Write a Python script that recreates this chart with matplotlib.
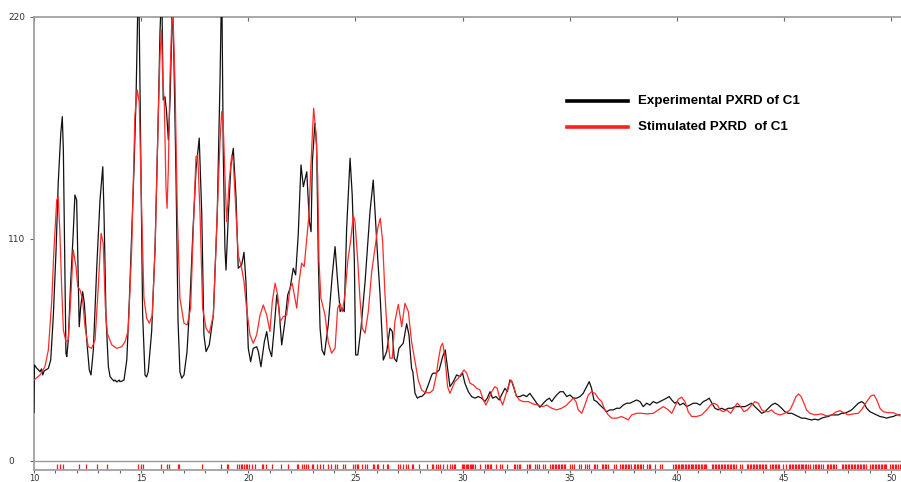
import matplotlib
matplotlib.use("Agg")
from matplotlib import pyplot as plt
from matplotlib.lines import Line2D
from matplotlib.ticker import MultipleLocator

# measured pattern (2theta, counts)
exp_tt = [10.00, 10.02, 10.13, 10.21, 10.28, 10.35, 10.41, 10.47, 10.56, 10.67,
          10.78, 10.90, 11.03, 11.13, 11.25, 11.32, 11.37, 11.43, 11.49, 11.53,
          11.60, 11.71, 11.83, 11.91, 11.99, 12.07, 12.11, 12.18, 12.27, 12.35,
          12.46, 12.58, 12.66, 12.77, 12.93, 13.08, 13.21, 13.27, 13.36, 13.47,
          13.55, 13.64, 13.73, 13.78, 13.87, 13.97, 14.01, 14.11, 14.20, 14.33,
          14.45, 14.56, 14.67, 14.76, 14.88, 14.98, 15.07, 15.18, 15.25, 15.33,
          15.49, 15.65, 15.80, 15.88, 15.96, 16.03, 16.11, 16.18, 16.27, 16.35,
          16.42, 16.45, 16.53, 16.63, 16.72, 16.81, 16.89, 17.00, 17.14, 17.28,
          17.42, 17.56, 17.71, 17.83, 17.93, 18.03, 18.18, 18.37, 18.55, 18.68,
          18.76, 18.83, 18.91, 18.96, 19.07, 19.19, 19.30, 19.43, 19.53, 19.69,
          19.80, 19.89, 20.00, 20.11, 20.23, 20.39, 20.47, 20.59, 20.75, 20.86,
          20.97, 21.09, 21.21, 21.33, 21.43, 21.56, 21.71, 21.84, 21.95, 22.10,
          22.21, 22.33, 22.46, 22.57, 22.73, 22.85, 22.93, 22.99, 23.11, 23.19,
          23.27, 23.35, 23.44, 23.55, 23.73, 23.92, 24.05, 24.17, 24.29, 24.39,
          24.48, 24.59, 24.75, 24.85, 24.95, 25.01, 25.11, 25.26, 25.45, 25.68,
          25.83, 25.94, 26.04, 26.15, 26.30, 26.46, 26.61, 26.72, 26.81, 26.92,
          27.03, 27.23, 27.39, 27.50, 27.55, 27.62, 27.68, 27.78, 27.89, 28.01,
          28.09, 28.17, 28.25, 28.40, 28.56, 28.63, 28.76, 28.91, 29.07, 29.19,
          29.29, 29.41, 29.57, 29.72, 29.88, 30.00, 30.11, 30.27, 30.42, 30.58,
          30.73, 30.89, 31.04, 31.15, 31.28, 31.40, 31.56, 31.71, 31.82, 31.98,
          32.09, 32.21, 32.30, 32.40, 32.52, 32.68, 32.83, 32.99, 33.14, 33.30,
          33.46, 33.61, 33.77, 33.92, 34.05, 34.16, 34.27, 34.39, 34.55, 34.70,
          34.86, 35.01, 35.17, 35.32, 35.48, 35.63, 35.79, 35.91, 36.02, 36.13,
          36.26, 36.41, 36.57, 36.72, 36.88, 37.03, 37.19, 37.34, 37.50, 37.66,
          37.81, 37.97, 38.12, 38.28, 38.43, 38.59, 38.74, 38.90, 39.06, 39.21,
          39.37, 39.52, 39.64, 39.76, 39.91, 40.02, 40.14, 40.30, 40.46, 40.61,
          40.77, 40.92, 41.08, 41.23, 41.39, 41.51, 41.62, 41.78, 41.93, 42.09,
          42.25, 42.40, 42.56, 42.71, 42.87, 43.02, 43.18, 43.33, 43.49, 43.64,
          43.80, 43.96, 44.11, 44.27, 44.42, 44.58, 44.73, 44.89, 45.04, 45.20,
          45.36, 45.51, 45.67, 45.82, 45.98, 46.13, 46.29, 46.44, 46.60, 46.76,
          46.91, 47.06, 47.22, 47.38, 47.53, 47.69, 47.84, 48.00, 48.16, 48.31,
          48.47, 48.62, 48.73, 48.86, 49.01, 49.16, 49.32, 49.48, 49.63, 49.79,
          49.94, 50.10, 50.26, 50.41]
exp_counts = [24.0, 47.6, 45.9, 45.1, 44.2, 45.6, 42.6, 44.6, 45.1, 45.9,
              50.0, 71.5, 104.6, 137.6, 162.4, 170.6, 154.1, 104.6, 53.4, 51.7,
              60.0, 88.1, 112.8, 131.8, 129.3, 88.1, 66.5, 76.5, 83.9, 78.1,
              60.0, 45.1, 42.6, 55.0, 96.3, 129.3, 145.8, 121.1, 71.5, 46.7,
              41.8, 40.6, 39.6, 40.1, 39.1, 40.1, 39.3, 39.6, 40.1, 50.0,
              79.8, 112.8, 145.8, 178.9, 245.0, 155.1, 72.3, 42.6, 41.6, 44.2,
              64.1, 105.4, 171.4, 212.7, 235.0, 178.9, 180.5, 173.9, 159.0, 178.9,
              208.6, 232.0, 198.7, 139.2, 69.9, 44.1, 41.0, 42.6, 54.0, 79.8,
              114.5, 144.2, 160.0, 121.9, 62.4, 54.2, 57.5, 72.3, 121.9, 187.9,
              240.0, 154.9, 105.4, 94.6, 121.9, 146.7, 154.9, 130.2, 95.5, 97.1,
              103.4, 88.8, 55.8, 49.2, 55.8, 56.6, 54.2, 46.7, 59.1, 64.1,
              55.8, 51.7, 65.8, 82.3, 75.7, 57.5, 69.0, 82.3, 85.6, 95.5,
              92.2, 112.0, 146.7, 135.9, 143.3, 118.6, 113.6, 148.3, 167.3, 156.6,
              98.8, 65.8, 55.0, 52.5, 67.4, 92.2, 106.2, 88.8, 74.0, 75.7,
              74.0, 115.3, 150.0, 131.8, 98.8, 52.5, 52.5, 65.8, 88.8, 123.5,
              139.2, 118.6, 100.4, 82.3, 50.0, 54.2, 65.8, 64.1, 50.9, 49.2,
              55.8, 58.3, 68.0, 62.4, 55.0, 45.9, 44.1, 33.5, 31.1, 31.9,
              31.9, 32.7, 33.5, 37.7, 42.6, 43.5, 43.5, 45.1, 51.7, 55.0,
              46.7, 36.8, 39.3, 42.6, 41.8, 43.5, 38.5, 34.3, 31.9, 31.1,
              31.9, 31.1, 29.4, 31.1, 34.3, 31.1, 31.9, 30.2, 32.7, 36.0,
              34.3, 40.1, 39.3, 36.0, 31.9, 31.9, 32.7, 31.9, 33.5, 31.1,
              28.6, 26.6, 28.6, 30.2, 31.1, 29.4, 31.1, 32.7, 34.3, 34.3,
              31.9, 32.7, 31.1, 31.1, 31.9, 33.5, 36.8, 39.3, 36.0, 30.2,
              29.4, 27.7, 26.1, 24.4, 25.3, 25.3, 26.1, 26.1, 27.7, 28.6,
              28.6, 29.4, 30.2, 29.4, 26.9, 28.6, 27.7, 29.4, 28.6, 29.4,
              30.2, 31.1, 31.9, 30.2, 28.6, 29.4, 27.7, 28.6, 26.9, 27.7,
              28.6, 28.6, 27.7, 29.4, 30.2, 31.1, 28.9, 26.1, 25.3, 26.1,
              25.3, 26.1, 26.1, 26.9, 26.9, 26.9, 26.9, 27.7, 28.6, 26.9,
              25.3, 23.6, 24.4, 26.1, 27.7, 28.6, 27.7, 26.1, 24.4, 23.6,
              23.6, 22.8, 22.0, 21.2, 21.2, 20.7, 20.3, 20.7, 20.3, 21.2,
              21.7, 22.0, 22.8, 22.8, 22.8, 23.6, 23.6, 24.4, 25.3, 26.9,
              28.6, 29.4, 28.6, 26.1, 24.4, 23.6, 22.8, 22.0, 21.7, 21.2,
              21.7, 22.0, 22.8, 22.8]

# calculated pattern from the single crystal structure
sim_tt = [10.00, 10.28, 10.51, 10.67, 10.83, 10.93, 11.06, 11.13, 11.21, 11.29,
          11.37, 11.49, 11.60, 11.71, 11.83, 11.96, 12.04, 12.15, 12.27, 12.38,
          12.53, 12.69, 12.85, 13.00, 13.13, 13.23, 13.33, 13.42, 13.63, 13.86,
          14.09, 14.25, 14.40, 14.56, 14.71, 14.82, 14.91, 15.03, 15.13, 15.26,
          15.38, 15.52, 15.65, 15.80, 15.88, 15.95, 16.01, 16.08, 16.16, 16.21,
          16.27, 16.35, 16.43, 16.47, 16.50, 16.58, 16.69, 16.81, 17.00, 17.15,
          17.31, 17.43, 17.56, 17.64, 17.75, 17.87, 18.03, 18.18, 18.37, 18.55,
          18.68, 18.76, 18.83, 18.91, 18.99, 19.11, 19.23, 19.30, 19.43, 19.53,
          19.69, 19.80, 19.92, 20.08, 20.23, 20.39, 20.47, 20.55, 20.70, 20.86,
          21.01, 21.12, 21.25, 21.37, 21.48, 21.63, 21.79, 21.95, 22.05, 22.18,
          22.26, 22.37, 22.49, 22.61, 22.73, 22.83, 22.93, 23.05, 23.15, 23.24,
          23.30, 23.39, 23.58, 23.73, 23.89, 24.05, 24.17, 24.28, 24.39, 24.51,
          24.64, 24.79, 24.90, 24.98, 25.11, 25.21, 25.32, 25.45, 25.60, 25.76,
          25.91, 26.04, 26.16, 26.27, 26.38, 26.50, 26.61, 26.72, 26.84, 27.00,
          27.16, 27.31, 27.47, 27.62, 27.78, 27.93, 28.09, 28.25, 28.48, 28.63,
          28.76, 28.87, 28.98, 29.07, 29.15, 29.23, 29.30, 29.41, 29.54, 29.64,
          29.80, 29.96, 30.07, 30.19, 30.35, 30.50, 30.66, 30.81, 30.97, 31.09,
          31.20, 31.36, 31.51, 31.62, 31.71, 31.87, 31.99, 32.13, 32.26, 32.37,
          32.49, 32.65, 32.83, 33.07, 33.30, 33.53, 33.74, 33.92, 34.16, 34.39,
          34.62, 34.86, 35.01, 35.17, 35.29, 35.40, 35.56, 35.71, 35.87, 36.02,
          36.18, 36.33, 36.49, 36.64, 36.80, 36.96, 37.19, 37.42, 37.58, 37.73,
          37.89, 38.12, 38.36, 38.59, 38.90, 39.13, 39.37, 39.60, 39.76, 39.91,
          40.07, 40.22, 40.38, 40.53, 40.69, 40.92, 41.16, 41.39, 41.58, 41.73,
          41.89, 42.01, 42.17, 42.32, 42.51, 42.66, 42.82, 42.98, 43.13, 43.29,
          43.49, 43.64, 43.80, 43.96, 44.11, 44.27, 44.42, 44.58, 44.81, 45.04,
          45.28, 45.43, 45.56, 45.68, 45.80, 45.93, 46.05, 46.21, 46.44, 46.75,
          46.99, 47.22, 47.45, 47.61, 47.80, 48.00, 48.23, 48.47, 48.67, 48.86,
          49.05, 49.20, 49.33, 49.48, 49.63, 49.86, 50.10, 50.33, 50.41]
sim_counts = [40.1, 42.6, 46.7, 55.0, 79.8, 104.6, 129.3, 131.0, 112.8, 86.4,
              64.9, 59.1, 60.0, 79.8, 104.6, 96.3, 86.4, 84.7, 79.8, 66.5,
              56.6, 55.8, 60.0, 86.4, 112.8, 107.9, 76.5, 63.3, 57.5, 55.8,
              56.6, 59.1, 64.9, 105.4, 171.4, 183.8, 178.0, 121.9, 80.6, 70.7,
              68.2, 72.3, 105.4, 171.4, 201.2, 213.6, 187.9, 178.0, 135.1, 125.2,
              145.0, 191.3, 217.7, 222.0, 216.0, 187.9, 121.9, 80.6, 68.2, 67.4,
              75.7, 113.6, 150.8, 151.6, 121.9, 75.7, 65.8, 63.3, 72.3, 121.9,
              158.2, 173.1, 166.5, 141.7, 118.6, 138.4, 151.6, 148.3, 121.9, 102.1,
              95.5, 88.8, 75.7, 62.4, 58.3, 62.4, 67.4, 72.3, 77.3, 72.3,
              64.1, 78.9, 88.1, 82.3, 69.0, 71.5, 72.3, 85.6, 88.1, 80.6,
              75.7, 88.8, 98.0, 96.3, 110.3, 121.9, 148.3, 174.8, 163.2, 140.1,
              98.8, 80.6, 72.3, 59.1, 53.4, 55.8, 75.7, 78.1, 74.0, 82.3,
              98.8, 110.3, 121.9, 118.6, 98.8, 80.6, 65.8, 63.3, 74.0, 93.8,
              105.4, 115.3, 120.3, 108.7, 82.3, 60.8, 50.9, 50.9, 69.0, 77.6,
              66.5, 78.1, 74.0, 59.1, 49.2, 40.1, 35.2, 33.8, 33.8, 35.2,
              41.8, 50.0, 56.6, 58.3, 53.4, 45.1, 36.8, 33.5, 36.8, 39.3,
              41.0, 43.5, 45.1, 43.5, 38.5, 37.7, 36.0, 35.2, 30.2, 27.7,
              30.2, 34.3, 36.8, 36.0, 31.9, 27.7, 31.9, 36.8, 40.1, 37.7,
              32.7, 30.2, 29.4, 29.4, 28.2, 27.7, 26.9, 27.7, 26.1, 25.3,
              26.1, 27.7, 29.4, 31.1, 29.4, 25.3, 23.6, 27.7, 32.7, 34.3,
              33.5, 31.1, 29.4, 25.3, 22.8, 21.2, 21.2, 22.0, 21.2, 20.3,
              22.8, 23.6, 23.6, 23.3, 23.6, 25.3, 26.9, 25.3, 23.6, 26.9,
              30.6, 31.6, 29.4, 24.4, 22.0, 22.0, 22.8, 25.3, 27.7, 28.6,
              27.7, 25.3, 24.4, 25.3, 23.6, 26.1, 28.6, 26.9, 24.4, 25.3,
              27.7, 29.4, 28.6, 25.3, 24.4, 24.4, 25.3, 23.6, 22.8, 23.6,
              25.3, 28.6, 31.9, 33.2, 31.9, 28.6, 25.3, 23.6, 22.8, 23.3,
              22.3, 22.8, 24.4, 24.9, 23.9, 22.8, 23.3, 23.6, 26.1, 29.4,
              32.2, 32.7, 30.2, 26.1, 24.4, 23.9, 23.9, 22.8, 22.3]

# calculated reflection positions (2theta)
hkl_tt = [11.09, 11.21, 11.37, 12.11, 12.43, 12.93, 13.39, 14.87, 14.98, 15.10,
          15.91, 16.19, 16.30, 16.71, 16.78, 17.85, 18.73, 18.99, 19.07, 19.49,
          19.57, 19.65, 19.72, 19.80, 19.88, 19.95, 20.05, 20.16, 20.31, 20.63,
          20.70, 20.83, 21.09, 21.53, 21.87, 22.26, 22.33, 22.49, 22.60, 22.69,
          22.80, 22.96, 23.03, 23.19, 23.35, 23.47, 23.73, 23.84, 24.05, 24.15,
          24.43, 24.51, 24.90, 24.98, 25.06, 25.13, 25.29, 25.45, 25.52, 25.80,
          25.87, 25.99, 26.07, 26.27, 26.46, 26.53, 27.00, 27.08, 27.23, 27.36,
          27.47, 27.62, 27.70, 27.98, 28.32, 28.56, 28.63, 28.76, 28.87, 28.95,
          29.10, 29.27, 29.42, 29.50, 29.58, 29.66, 29.96, 30.02, 30.09, 30.15,
          30.21, 30.27, 30.33, 30.39, 30.45, 30.51, 30.57, 30.81, 31.05, 31.12,
          31.19, 31.26, 31.33, 31.54, 31.75, 31.85, 32.08, 32.38, 32.46, 32.54,
          32.62, 32.70, 33.00, 33.08, 33.16, 33.40, 33.48, 33.56, 33.75, 33.85,
          34.10, 34.17, 34.24, 34.31, 34.38, 34.45, 34.52, 34.59, 34.66, 34.73,
          34.80, 35.02, 35.10, 35.18, 35.42, 35.52, 35.72, 35.80, 35.90, 36.12,
          36.20, 36.28, 36.50, 36.57, 36.64, 36.71, 36.78, 37.05, 37.15, 37.35,
          37.42, 37.49, 37.56, 37.63, 37.70, 37.77, 37.84, 37.98, 38.05, 38.12,
          38.19, 38.26, 38.33, 38.40, 38.60, 38.68, 38.76, 38.98, 39.22, 39.32,
          39.84, 39.90, 39.97, 40.03, 40.10, 40.17, 40.23, 40.30, 40.37, 40.43,
          40.50, 40.57, 40.64, 40.70, 40.77, 40.84, 40.91, 40.97, 41.04, 41.11,
          41.18, 41.25, 41.32, 41.38, 41.63, 41.70, 41.77, 41.84, 41.91, 41.98,
          42.05, 42.12, 42.19, 42.26, 42.33, 42.40, 42.47, 42.54, 42.61, 42.68,
          42.75, 42.95, 43.05, 43.26, 43.33, 43.40, 43.47, 43.54, 43.61, 43.68,
          43.75, 43.82, 43.89, 43.96, 44.03, 44.10, 44.17, 44.35, 44.42, 44.49,
          44.56, 44.63, 44.70, 44.78, 44.97, 45.10, 45.21, 45.28, 45.35, 45.42,
          45.49, 45.56, 45.63, 45.70, 45.77, 45.84, 45.91, 45.98, 46.05, 46.12,
          46.19, 46.37, 46.44, 46.51, 46.58, 46.65, 46.72, 46.80, 47.00, 47.07,
          47.14, 47.21, 47.28, 47.35, 47.43, 47.70, 47.77, 47.84, 47.91, 47.98,
          48.05, 48.12, 48.19, 48.26, 48.33, 48.40, 48.47, 48.54, 48.61, 48.68,
          48.75, 48.83, 49.02, 49.09, 49.16, 49.23, 49.30, 49.37, 49.44, 49.51,
          49.58, 49.65, 49.72, 49.78, 49.95, 50.02, 50.09, 50.16, 50.23, 50.30,
          50.39]

y_ticks = [0, 110, 220]
x_ticks = [10, 15, 20, 25, 30, 35, 40, 45, 50]
legend_labels = ["Experimental PXRD of C1", "Stimulated PXRD  of C1"]

W, H = 901, 482
fig = plt.figure(figsize=(W / 100, H / 100), dpi=100)
ax = fig.add_axes([34 / W, 12.5 / H, 867 / W, 452.5 / H])

axis_grey = "#9a9a9a"
ax.axhline(0, color=axis_grey, lw=1.0, zorder=1)
ax.plot(exp_tt, exp_counts, color="#111111", lw=0.9, zorder=3)
ax.plot(sim_tt, sim_counts, color="#ff2a2a", lw=0.9, zorder=4)
ax.vlines(hkl_tt, -4.0, -1.4, color="#ff1a1a", lw=0.9, zorder=2)

ax.set_xlim(10, 50.46)
ax.set_ylim(-4.25, 220)

for side in ["left", "bottom", "top"]:
    ax.spines[side].set_color(axis_grey)
    ax.spines[side].set_linewidth(1.2)
ax.spines["right"].set_visible(False)

ax.set_xticks(x_ticks)
ax.xaxis.set_minor_locator(MultipleLocator(1))
ax.tick_params(axis="x", which="major", length=2.5, width=0.8, color="#666666",
               labelsize=6, labelcolor="#333333", pad=0.5)
ax.tick_params(axis="x", which="minor", length=2, width=0.8, color="#666666")

ax.set_yticks(y_ticks)
ax.tick_params(axis="y", length=3, width=0.8, color="#666666",
               labelsize=6.5, labelcolor="#333333", pad=15.5)
for lab in ax.get_yticklabels():
    lab.set_horizontalalignment("left")

top = ax.secondary_xaxis("top")
top.set_xticks(x_ticks)
top.tick_params(direction="in", length=3, width=0.8, color="#666666", labeltop=False)
top.spines["top"].set_visible(False)

# key drawn by hand to the right of the peaks
leg_y = [101, 127]
leg_colors = ["black", "#ff2020"]
for yy, col, txt in zip(leg_y, leg_colors, legend_labels):
    fy = 1 - yy / H
    fig.add_artist(Line2D([567 / W, 628 / W], [fy, fy], color=col, lw=2.6,
                          transform=fig.transFigure))
    fig.text(638 / W, fy, txt, fontsize=9.6, fontweight="bold",
             family="Liberation Sans", va="center", ha="left", color="black")

fig.savefig("out.png", dpi=100)
